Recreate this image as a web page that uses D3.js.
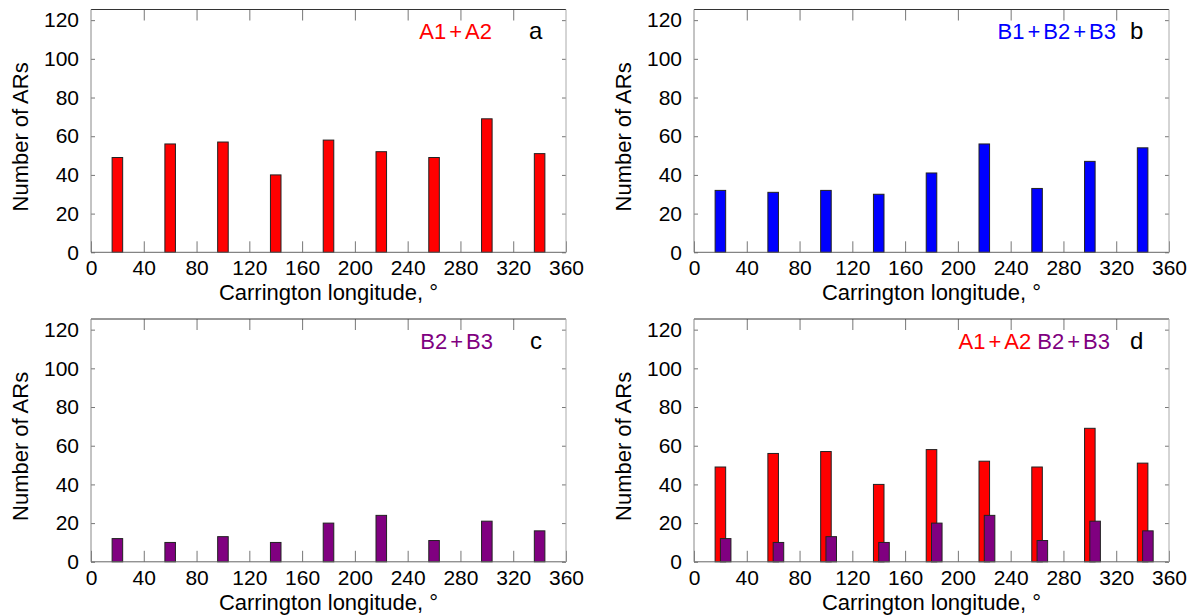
<!DOCTYPE html>
<html>
<head>
<meta charset="utf-8">
<script src="https://cdn.jsdelivr.net/npm/d3@7"></script>
<style>
  body { margin: 0; background: #fff; }
  text { font-family: "Liberation Sans", Arial, Helvetica, sans-serif; }
</style>
</head>
<body>
<svg id="chart"></svg>
<script>
const w = 1197;
const h = 616;

// data
const longitudes = [20, 60, 100, 140, 180, 220, 260, 300, 340];
const countA = [49, 56, 57, 40, 58, 52, 49, 69, 51];       // A1+A2
const countB = [32, 31, 32, 30, 41, 56, 33, 47, 54];       // B1+B2+B3
const countB23 = [12, 10, 13, 10, 20, 24, 11, 21, 16];     // B2+B3
const xTicks = [0, 40, 80, 120, 160, 200, 240, 280, 320, 360];
const yTicks = [0, 20, 40, 60, 80, 100, 120];

const binWidth = 8;

const svg = d3.select("#chart")
    .attr("width", w)
    .attr("height", h);

// panel layout
const panels = [
    { left: 91, top: 9.5, letter: "a", labelEnd: 492, letterX: 529,
      labels: [{ text: "A1+A2", color: "#ff0000" }],
      series: [{ values: countA, color: "#ff0000", shift: 0 }] },
    { left: 694, top: 9.5, letter: "b", labelEnd: 1116, letterX: 1130,
      labels: [{ text: "B1+B2+B3", color: "#0000ff" }],
      series: [{ values: countB, color: "#0000ff", shift: 0 }] },
    { left: 91, top: 319, letter: "c", labelEnd: 493, letterX: 530,
      labels: [{ text: "B2+B3", color: "#800080" }],
      series: [{ values: countB23, color: "#800080", shift: 0 }] },
    { left: 694, top: 319, letter: "d", labelEnd: 1110, letterX: 1130,
      labels: [{ text: "A1+A2", color: "#ff0000" }, { text: "B2+B3", color: "#800080" }],
      series: [{ values: countA, color: "#ff0000", shift: 0 },
               { values: countB23, color: "#800080", shift: 4 }] }
];

const pw = 475;
const ph = 242.8;
const fs = "22px";
const tickFs = "21px";

panels.forEach(function (p) {
    const g = svg.append("g")
        .attr("transform", "translate(" + p.left + "," + p.top + ")");

    const xScale = d3.scaleLinear().domain([0, 360]).range([0, pw]);
    const yScale = d3.scaleLinear().domain([0, 125.5]).range([ph, 0]);

    // bars
    p.series.forEach(function (s) {
        g.append("g")
            .selectAll("rect")
            .data(s.values)
            .enter()
            .append("rect")
            .attr("x", function (d, i) {
                return xScale(longitudes[i] + s.shift - binWidth / 2);
            })
            .attr("y", function (d) { return yScale(d); })
            .attr("width", xScale(binWidth) - xScale(0))
            .attr("height", function (d) { return yScale(0) - yScale(d); })
            .attr("fill", s.color)
            .attr("stroke", "#222")
            .attr("stroke-width", 1);
    });

    // axes
    const yAxis = d3.axisLeft(yScale)
        .tickValues(yTicks)
        .tickSizeInner(-4)
        .tickSizeOuter(0)
        .tickPadding(12);
    const xAxis = d3.axisBottom(xScale)
        .tickValues(xTicks)
        .tickSizeInner(-11)
        .tickSizeOuter(0)
        .tickPadding(8);

    g.append("g").attr("class", "axis").call(yAxis);
    g.append("g").attr("class", "axis")
        .attr("transform", "translate(0," + ph + ")")
        .call(xAxis);

    g.append("g")
        .attr("transform", "translate(" + pw + ",0)")
        .call(d3.axisRight(yScale).tickValues(yTicks).tickSizeInner(-4).tickSizeOuter(0).tickFormat(""));
    g.append("g")
        .call(d3.axisTop(xScale).tickValues(xTicks.slice(1, -1)).tickSizeInner(-11).tickSizeOuter(0).tickFormat(""));

    g.selectAll(".domain").remove();
    g.selectAll(".tick line").attr("stroke", "#777");
    g.selectAll(".tick text")
        .attr("font-size", tickFs)
        .attr("fill", "#000")
        .style("font-family", "'Liberation Sans', Arial, sans-serif");

    // frame
    g.append("line").attr("x1", 0).attr("x2", pw).attr("y1", 0).attr("y2", 0)
        .attr("stroke", "#333");
    g.append("line").attr("x1", 0).attr("x2", pw).attr("y1", ph).attr("y2", ph)
        .attr("stroke", "#666");
    g.append("line").attr("x1", 0).attr("x2", 0).attr("y1", 0).attr("y2", ph)
        .attr("stroke", "#888");
    g.append("line").attr("x1", pw).attr("x2", pw).attr("y1", 0).attr("y2", ph)
        .attr("stroke", "#aaa");

    // axis titles
    g.append("text")
        .attr("x", pw / 2)
        .attr("y", ph + 48)
        .attr("text-anchor", "middle")
        .attr("font-size", fs)
        .text("Carrington longitude, \u00b0");
    g.append("text")
        .attr("transform", "rotate(-90)")
        .attr("x", -ph / 2 - 6)
        .attr("y", -63)
        .attr("text-anchor", "middle")
        .attr("font-size", fs)
        .text("Number of ARs");

    // series labels, a little extra room round the "+"
    const lab = svg.append("text")
        .attr("x", p.labelEnd)
        .attr("y", p.top + 29.5)
        .attr("text-anchor", "end")
        .attr("font-size", fs);
    p.labels.forEach(function (l, i) {
        const parts = l.text.split("+");
        parts.forEach(function (part, j) {
            if (j > 0) {
                lab.append("tspan").attr("fill", l.color).attr("dx", 3).text("+");
            }
            lab.append("tspan")
                .attr("fill", l.color)
                .attr("dx", j > 0 ? 3 : 0)
                .text((i > 0 && j === 0 ? " " : "") + part);
        });
    });
    svg.append("text")
        .attr("x", p.letterX)
        .attr("y", p.top + 29.5)
        .attr("font-size", "24px")
        .attr("fill", "#000")
        .text(p.letter);
});
</script>
</body>
</html>
